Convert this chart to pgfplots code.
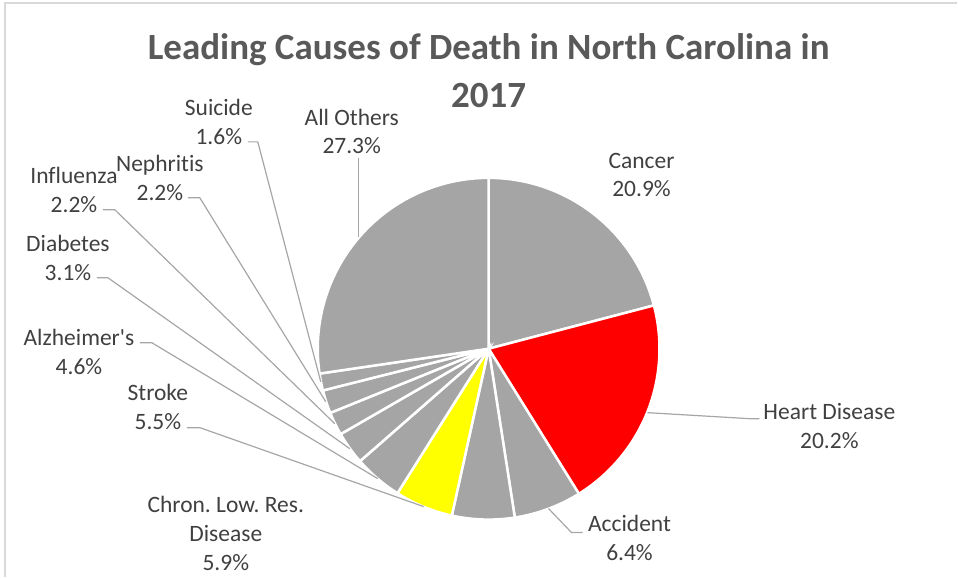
\documentclass[border=0pt]{standalone}
\usepackage{fontspec}
\setmainfont{Carlito}[Ligatures={NoCommon}]
\usepackage{pgfplots}
\pgfplotsset{compat=1.18}
\frenchspacing
\definecolor{pgray}{HTML}{A5A5A5}
\definecolor{pred}{HTML}{FF0000}
\definecolor{pyel}{HTML}{FFFF00}
\definecolor{ttl}{HTML}{595959}
\definecolor{lbl}{HTML}{404040}
\definecolor{lead}{HTML}{A6A6A6}
\definecolor{frame}{HTML}{D9D9D9}
\newcommand{\sq}{\XeTeXglyph\XeTeXcharglyph"27\relax}
\tikzset{lab/.style={text=lbl, font=\fontsize{23.5}{28.7}\selectfont, align=center, inner sep=0pt},
  ttlstyle/.style={text=ttl, font=\bfseries\fontsize{37}{48}\selectfont, align=center, inner sep=0pt}}
\begin{document}
\begin{tikzpicture}
\begin{axis}[width=958pt, height=577pt, scale only axis,
  xmin=0, xmax=958, ymin=0, ymax=577, hide axis, clip=false]
\addplot[draw=none] coordinates {(0,0) (958,577)};
% frame
\addplot[frame, line width=1.5pt] coordinates {(5,0) (5,574) (958,574)};
% wedges: domain = cumulative percentage (total 99.9)
\addplot[pgray, fill=pgray, draw=white, line width=2.5pt, domain=0:20.9, samples=80, variable=\p] ({489+171*cos(90-360/99.9*\p)},{228+171*sin(90-360/99.9*\p)}) -- (489,228) -- cycle;
\addplot[pred, fill=pred, draw=white, line width=2.5pt, domain=20.9:41.1, samples=80, variable=\p] ({489+171*cos(90-360/99.9*\p)},{228+171*sin(90-360/99.9*\p)}) -- (489,228) -- cycle;
\addplot[pgray, fill=pgray, draw=white, line width=2.5pt, domain=41.1:47.5, samples=30, variable=\p] ({489+171*cos(90-360/99.9*\p)},{228+171*sin(90-360/99.9*\p)}) -- (489,228) -- cycle;
\addplot[pgray, fill=pgray, draw=white, line width=2.5pt, domain=47.5:53.4, samples=30, variable=\p] ({489+171*cos(90-360/99.9*\p)},{228+171*sin(90-360/99.9*\p)}) -- (489,228) -- cycle;
\addplot[pyel, fill=pyel, draw=white, line width=2.5pt, domain=53.4:58.9, samples=30, variable=\p] ({489+171*cos(90-360/99.9*\p)},{228+171*sin(90-360/99.9*\p)}) -- (489,228) -- cycle;
\addplot[pgray, fill=pgray, draw=white, line width=2.5pt, domain=58.9:63.5, samples=30, variable=\p] ({489+171*cos(90-360/99.9*\p)},{228+171*sin(90-360/99.9*\p)}) -- (489,228) -- cycle;
\addplot[pgray, fill=pgray, draw=white, line width=2.5pt, domain=63.5:66.6, samples=20, variable=\p] ({489+171*cos(90-360/99.9*\p)},{228+171*sin(90-360/99.9*\p)}) -- (489,228) -- cycle;
\addplot[pgray, fill=pgray, draw=white, line width=2.5pt, domain=66.6:68.8, samples=20, variable=\p] ({489+171*cos(90-360/99.9*\p)},{228+171*sin(90-360/99.9*\p)}) -- (489,228) -- cycle;
\addplot[pgray, fill=pgray, draw=white, line width=2.5pt, domain=68.8:71.0, samples=20, variable=\p] ({489+171*cos(90-360/99.9*\p)},{228+171*sin(90-360/99.9*\p)}) -- (489,228) -- cycle;
\addplot[pgray, fill=pgray, draw=white, line width=2.5pt, domain=71.0:72.6, samples=20, variable=\p] ({489+171*cos(90-360/99.9*\p)},{228+171*sin(90-360/99.9*\p)}) -- (489,228) -- cycle;
\addplot[pgray, fill=pgray, draw=white, line width=2.5pt, domain=72.6:99.9, samples=100, variable=\p] ({489+171*cos(90-360/99.9*\p)},{228+171*sin(90-360/99.9*\p)}) -- (489,228) -- cycle;
% leader lines
\addplot[lead, line width=1.2pt] coordinates {(648,164) (750,158) (760,158)};
\addplot[lead, line width=1.2pt] coordinates {(549,68) (572,44) (583,44)};
\addplot[lead, line width=1.2pt] coordinates {(187,149) (200,149) (424,70)};
\addplot[lead, line width=1.2pt] coordinates {(140,234) (152,234) (378,98)};
\addplot[lead, line width=1.2pt] coordinates {(97,299) (108,299) (350,128)};
\addplot[lead, line width=1.2pt] coordinates {(103,367) (115,367) (335,153)};
\addplot[lead, line width=1.2pt] coordinates {(188,379) (200,379) (326,175)};
\addplot[lead, line width=1.2pt] coordinates {(248,435) (258,435) (321,195)};
\addplot[lead, line width=1.2pt] coordinates {(359,419) (359,340)};
% labels
\node[ttlstyle] at (axis cs:489,506) {Leading Causes of Death in North Carolina in\\2017};
\node[lab] at (axis cs:642,402) {Cancer\\20.9\%};
\node[lab] at (axis cs:830,150.5) {Heart Disease\\20.2\%};
\node[lab] at (axis cs:630,38.5) {Accident\\6.4\%};
\node[lab] at (axis cs:226,43) {Chron. Low. Res.\\Disease\\5.9\%};
\node[lab] at (axis cs:158,170) {Stroke\\5.5\%};
\node[lab] at (axis cs:79,225) {Alzheimer\sq s\\4.6\%};
\node[lab] at (axis cs:68,319) {Diabetes\\3.1\%};
\node[lab] at (axis cs:74,387) {Influenza\\2.2\%};
\node[lab] at (axis cs:160,399) {Nephritis\\2.2\%};
\node[lab] at (axis cs:219,455) {Suicide\\1.6\%};
\node[lab] at (axis cs:352,445.5) {All Others\\27.3\%};
\end{axis}
\end{tikzpicture}
\end{document}
